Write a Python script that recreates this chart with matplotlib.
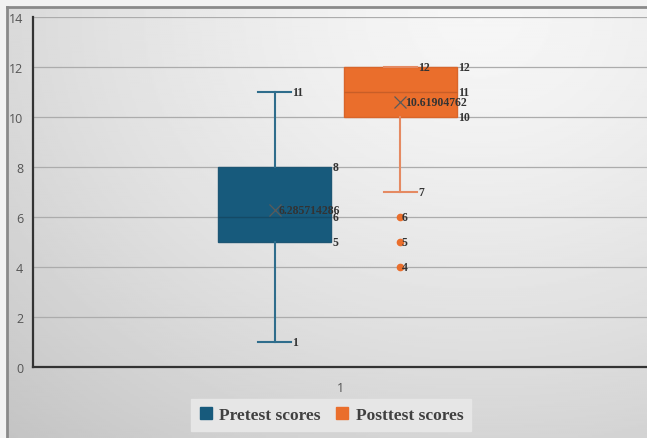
import numpy as np
import matplotlib
matplotlib.use("Agg")
import matplotlib.pyplot as plt
from matplotlib.lines import Line2D

# summary statistics for each group
groups = ["Pretest scores", "Posttest scores"]
whisker_low = [1, 7]
q1 = [5, 10]
median = [6, 11]
q3 = [8, 12]
whisker_high = [11, 12]
means = [6.285714286, 10.61904762]
outliers = [[], [6, 5, 4]]

box_colors = ["#175a7c", "#ea6e2c"]
edge_colors = ["#1d5674", "#d9652a"]
whisker_colors = ["#2f6d8c", "#e58a62"]
median_colors = ["#144a66", "#c85e27"]

positions = [0.787, 1.197]
box_width = 0.368
cap_width = 0.108

W, H = 647, 439
fig = plt.figure(figsize=(W / 100, H / 100), dpi=100, facecolor="#f2f2f2")

# shaded panel behind the chart
bg = fig.add_axes([7 / W, 0, 1 - 7 / W, (H - 8) / H], zorder=-2)
xs = np.linspace(7, W, 320)
ys = np.linspace(8, H, 220)
X, Y = np.meshgrid(xs, ys)
r = np.sqrt(((X - 480) / 520) ** 2 + ((Y - 20) / 420) ** 2)
shade = np.clip(0.965 - 0.13 * r ** 1.4, 0, 1)
bg.imshow(shade, cmap="gray", vmin=0, vmax=1, aspect="auto",
          extent=[0, 1, 0, 1], origin="upper")
bg.set_xlim(0, 1)
bg.set_ylim(0, 1)
bg.axis("off")
# panel border (top and left edges)
fig.add_artist(Line2D([7 / W, 7 / W], [0, 1 - 8 / H], color="#8a8a8a", lw=2,
                      transform=fig.transFigure))
fig.add_artist(Line2D([7 / W, 1], [1 - 8 / H, 1 - 8 / H], color="#8a8a8a", lw=2,
                      transform=fig.transFigure))

ax = fig.add_axes([33 / W, 1 - 368 / H, 1 - 33 / W, (368 - 18) / H])
ax.patch.set_alpha(0)

stats = []
for i in range(len(groups)):
    stats.append(dict(label=groups[i], whislo=whisker_low[i], q1=q1[i],
                      med=median[i], q3=q3[i], whishi=whisker_high[i],
                      mean=means[i], fliers=outliers[i]))

for i, s in enumerate(stats):
    ax.bxp([s], positions=[positions[i]], widths=box_width, patch_artist=True,
           showmeans=True, showfliers=True, shownotches=False,
           boxprops=dict(facecolor=box_colors[i], edgecolor=edge_colors[i], lw=1),
           whiskerprops=dict(color=whisker_colors[i], lw=1.5),
           capprops=dict(color=whisker_colors[i], lw=1.5),
           capwidths=cap_width,
           medianprops=dict(color=median_colors[i], lw=1),
           meanprops=dict(marker="x", markeredgecolor="#5a5a5a", markersize=8,
                          markeredgewidth=0.9),
           flierprops=dict(marker="o", markerfacecolor=box_colors[i],
                           markeredgecolor=box_colors[i], markersize=4.5),
           zorder=3)

label_font = dict(family="Liberation Serif", weight="bold", size=8.5, color="#333333")


def put(x, y, text, dx=1):
    ax.annotate(text, (x, y), xytext=(dx, 0), textcoords="offset points",
                ha="left", va="center", zorder=5, **label_font)


for i in range(len(groups)):
    p = positions[i]
    right = p + box_width / 2
    cap_r = p + cap_width / 2
    # whisker ends
    put(cap_r, whisker_high[i], str(whisker_high[i]))
    put(cap_r, whisker_low[i], str(whisker_low[i]))
    # box edges and median
    put(right, q3[i], str(q3[i]))
    put(right, median[i], str(median[i]))
    put(right, q1[i], str(q1[i]))
    # mean
    put(p, means[i], f"{means[i]:.10g}", dx=3)
    for v in outliers[i]:
        put(p, v, str(v))

ax.set_xlim(0, 2)
ax.set_ylim(0, 14)
ax.set_yticks(np.arange(0, 15, 2))
ax.set_xticks([1])
ax.set_xticklabels(["1"])
ax.yaxis.grid(True, color="#acacac", lw=0.9)
ax.set_axisbelow(True)
for side in ["top", "right"]:
    ax.spines[side].set_visible(False)
for side in ["left", "bottom"]:
    ax.spines[side].set_color("#333333")
    ax.spines[side].set_linewidth(1.6)
ax.tick_params(length=0, labelsize=9, labelcolor="#555555")
ax.tick_params(axis="y", pad=7)
ax.tick_params(axis="x", pad=10)
for t in ax.get_xticklabels() + ax.get_yticklabels():
    t.set_family("Open Sans")

handles = [Line2D([], [], marker="s", ls="none", markersize=9,
                  markerfacecolor=c, markeredgecolor=c) for c in box_colors]
leg = fig.legend(handles, groups, loc="center", bbox_to_anchor=(331 / W, 1 - 416 / H),
                 ncol=2, frameon=True, fancybox=False, framealpha=1,
                 facecolor="#e6e6e6", edgecolor="#e6e6e6", handlelength=0.8,
                 handletextpad=0.4, columnspacing=0.8, borderpad=0.45,
                 prop=dict(family="Liberation Serif", weight="bold", size=12.5))
for t in leg.get_texts():
    t.set_color("#404040")

fig.savefig("out.png", dpi=100, facecolor=fig.get_facecolor())
